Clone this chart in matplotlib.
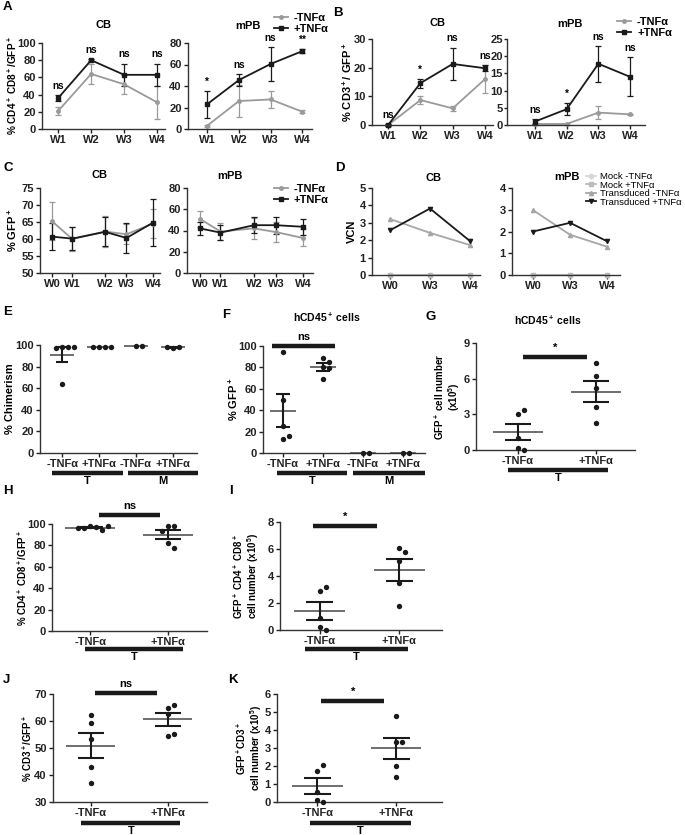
import numpy as np
import matplotlib
matplotlib.use("Agg")
import matplotlib.pyplot as plt
from matplotlib.transforms import offset_copy, blended_transform_factory
from matplotlib.lines import Line2D

plt.rcParams["font.family"] = ["Liberation Sans", "DejaVu Sans"]
plt.rcParams["font.weight"] = "bold"
plt.rcParams["axes.labelweight"] = "bold"
plt.rcParams["mathtext.fontset"] = "custom"
plt.rcParams["mathtext.rm"] = "Liberation Sans:bold"
plt.rcParams["mathtext.bf"] = "Liberation Sans:bold"
plt.rcParams["mathtext.it"] = "Liberation Sans:bold"
plt.rcParams["mathtext.default"] = "bf"

# ---------------- data ----------------
weeks_ab = ["W1", "W2", "W3", "W4"]
a_cb_minus = [21, 64, 52, 31]
a_cb_minus_err = [5, 12, 11, 19]
a_cb_plus = [36, 80, 63, 63]
a_cb_plus_err = [3, 1, 13, 13]
a_cb_sig = ["ns", "ns", "ns", "ns"]
a_pb_minus = [3, 26, 27.5, 16]
a_pb_minus_err = [1, 15, 7.5, 1.5]
a_pb_plus = [23, 45.5, 60.5, 72.5]
a_pb_plus_err = [12.5, 5.5, 15.5, 1.5]
a_pb_sig = ["*", "ns", "ns", "**"]

b_cb_minus = [0, 8.7, 5.8, 16]
b_cb_minus_err = [0.3, 1.5, 0.9, 5]
b_cb_plus = [0, 14.6, 21.3, 19.8]
b_cb_plus_err = [0.3, 1.6, 5.7, 1.1]
b_cb_sig = ["ns", "*", "ns", "ns"]
b_pb_minus = [0.3, 0.3, 3.6, 3.1]
b_pb_minus_err = [0.2, 0.2, 1.8, 0.2]
b_pb_plus = [1.0, 4.6, 17.8, 14.0]
b_pb_plus_err = [0.7, 1.8, 5.2, 5.7]
b_pb_sig = ["ns", "*", "ns", "ns"]

weeks_c = ["W0", "W1", "W2", "W3", "W4"]
weeks_c_pos = [0, 0.8, 2.1, 2.95, 4]
c_cb_minus = [65.2, 60.0, 62.2, 61.4, 64.5]
c_cb_minus_err = [5.6, 3.5, 4.5, 3.0, 4.2]
c_cb_plus = [60.7, 60.1, 62.1, 60.3, 64.8]
c_cb_plus_err = [4.0, 3.3, 4.3, 4.4, 7.0]
c_pb_minus = [51, 39, 42, 38.5, 33]
c_pb_minus_err = [7.5, 8, 10, 9.5, 8]
c_pb_plus = [42, 38, 45, 45, 43.5]
c_pb_plus_err = [6, 7, 7.5, 8, 7.5]

weeks_d = ["W0", "W3", "W4"]
d_cb_mock_minus = [0, 0, 0]
d_cb_mock_plus = [0, 0, 0]
d_cb_td_minus = [3.22, 2.42, 1.72]
d_cb_td_plus = [2.57, 3.82, 1.95]
d_pb_mock_minus = [0, 0, 0]
d_pb_mock_plus = [0, 0, 0]
d_pb_td_minus = [2.98, 1.85, 1.3]
d_pb_td_plus = [2.0, 2.4, 1.55]

tnf4 = ["-TNFα", "+TNFα", "-TNFα", "+TNFα"]
tnf2 = ["-TNFα", "+TNFα"]
e_vals = [[98, 98, 97, 98, 64], [98, 98, 98, 98], [99, 99], [97.5, 98, 98]]
f_vals = [[94, 50, 25, 13, 16], [89, 85, 80, 79, 69], [0, 0], [0, 0]]
g_vals = [[3.0, 3.35, 1.0, 0.2, 0.0], [7.3, 6.2, 5.2, 3.6, 2.3]]
h_vals = [[98, 97, 96, 94, 96, 98], [98, 98, 93, 82, 78]]
i_vals = [[2.9, 3.15, 0.9, 0.2, 0.0], [6.05, 5.75, 5.1, 3.5, 1.75]]
j_vals = [[62.3, 59.1, 53.3, 42.8, 37.1], [65.0, 66.0, 62.5, 54.5, 55.3]]
k_vals = [[1.75, 2.05, 0.55, 0.1, 0.0], [4.8, 3.35, 3.35, 2.0, 1.4]]

GRAY = "#9a9a9a"
BLACK = "#1a1a1a"
W, H = 685, 835
FS = 8

fig = plt.figure(figsize=(W / 100, H / 100), dpi=100)


def add_ax(l, t, r, b):
    ax = fig.add_axes([l / W, 1 - b / H, (r - l) / W, (b - t) / H])
    for s in ("top", "right"):
        ax.spines[s].set_visible(False)
    for s in ("left", "bottom"):
        ax.spines[s].set_linewidth(1.0)
        ax.spines[s].set_color("#333333")
    ax.tick_params(direction="out", length=3, width=1, labelsize=FS,
                   colors="#222222", pad=1.5)
    return ax


def ftext(x, y, s, **kw):
    kw.setdefault("ha", "center")
    kw.setdefault("va", "center")
    kw.setdefault("fontsize", FS)
    fig.text(x / W, 1 - y / H, s, **kw)


def ylab(ax, s, xpx, fs=FS):
    ax.set_ylabel(s, fontsize=fs, linespacing=1.0)
    tr = blended_transform_factory(fig.transFigure, ax.transAxes)
    ax.yaxis.set_label_coords(xpx / W, 0.5, transform=tr)
    ax.yaxis.label.set_verticalalignment("center")


def line_panel(ax, x, minus, minus_err, plus, plus_err, sig=None):
    ax.errorbar(x, minus, yerr=minus_err, color=GRAY, marker="o", ms=2.5,
                lw=1.3, elinewidth=0.9, capsize=2, capthick=0.9, clip_on=False)
    ax.errorbar(x, plus, yerr=plus_err, color=BLACK, marker="s", ms=2.5,
                lw=1.3, elinewidth=0.9, capsize=2, capthick=0.9, clip_on=False)
    if sig:
        for xi, s, m1, e1, m2, e2 in zip(x, sig, minus, minus_err, plus, plus_err):
            top = max(m1 + e1, m2 + e2)
            ax.annotate(s, (xi, top), xytext=(0, 3), textcoords="offset points",
                        ha="center", va="bottom", fontsize=7.2,
                        annotation_clip=False)


def swarm_offsets(ax, vals, d=6.0):
    o = ax.transData.transform((0, 0))
    sx = ax.transData.transform((1, 0))[0] - o[0]
    sy = ax.transData.transform((0, 1))[1] - o[1]
    placed, offs = [], []
    for v in vals:
        for k in (0, 1, -1, 2, -2, 3, -3, 4):
            px = k * d
            if all(np.hypot(px - qx, (v - qv) * sy) >= d * 0.95 for qx, qv in placed):
                break
        placed.append((px, v))
        offs.append(px / sx)
    return np.array(offs)


def dot_panel(ax, groups, labels):
    for i, vals in enumerate(groups):
        vals = np.asarray(vals, float)
        offs = swarm_offsets(ax, vals)
        ax.scatter(i + offs, vals, s=15, color=BLACK, zorder=4, clip_on=False,
                   linewidths=0)
        m = vals.mean()
        sem = vals.std(ddof=1) / np.sqrt(len(vals))
        ax.hlines(m, i - 0.32, i + 0.32, color="#555555", lw=1.2, zorder=3)
        if sem > 0:
            ax.vlines(i, m - sem, m + sem, color=BLACK, lw=1.5, zorder=3)
            ax.hlines([m - sem, m + sem], i - 0.17, i + 0.17, color=BLACK,
                      lw=1.5, zorder=3)
    ax.set_xticks(range(len(groups)))
    ax.set_xticklabels(labels)


def group_bar(ax, x0, x1, label, dy=20):
    tr = offset_copy(ax.get_xaxis_transform(), fig=fig, y=-dy, units="dots")
    ax.plot([x0, x1], [0, 0], transform=tr, color=BLACK, lw=3.2,
            clip_on=False, solid_capstyle="butt")
    tr2 = offset_copy(ax.get_xaxis_transform(), fig=fig, y=-dy - 3, units="dots")
    ax.text((x0 + x1) / 2, 0, label, transform=tr2, ha="center", va="top",
            fontsize=FS)


def sig_bar(ax, x0, x1, y, label):
    ax.plot([x0, x1], [y, y], color=BLACK, lw=3.2, clip_on=False,
            solid_capstyle="butt")
    ax.annotate(label, ((x0 + x1) / 2, y), xytext=(0, 3),
                textcoords="offset points", ha="center", va="bottom",
                fontsize=FS, annotation_clip=False)


legend_prop = {"weight": "bold", "size": FS}


def tnf_legend(ax, xpx, ypx):
    h = [Line2D([], [], color=GRAY, marker="o", ms=2.5, lw=1.3),
         Line2D([], [], color=BLACK, marker="s", ms=2.5, lw=1.3)]
    ax.legend(h, ["-TNFα", "+TNFα"], loc="upper left",
              bbox_to_anchor=(xpx / W, 1 - ypx / H),
              bbox_transform=fig.transFigure, frameon=False, prop=legend_prop,
              handlelength=1.3, handletextpad=0.5, labelspacing=0.1,
              borderpad=0, borderaxespad=0)


# ---------------- A ----------------
x4 = np.arange(len(weeks_ab))
ax = add_ax(42, 43, 165, 129)
line_panel(ax, x4, a_cb_minus, a_cb_minus_err, a_cb_plus, a_cb_plus_err, a_cb_sig)
ax.set_xlim(-0.49, 3.24)
ax.set_ylim(0, 100)
ax.set_yticks(range(0, 101, 20))
ax.set_xticks(x4)
ax.set_xticklabels(weeks_ab)
ylab(ax, r"% CD4$^+$ CD8$^+$/GFP$^+$", 12, fs=7.2)
ftext(103, 25, "CB")

ax = add_ax(188, 43, 312, 129)
line_panel(ax, x4, a_pb_minus, a_pb_minus_err, a_pb_plus, a_pb_plus_err, a_pb_sig)
ax.set_xlim(-0.6, 3.3)
ax.set_ylim(0, 80)
ax.set_yticks(range(0, 81, 20))
ax.set_xticks(x4)
ax.set_xticklabels(weeks_ab)
ftext(248, 26, "mPB")
tnf_legend(ax, 274, 13)

# ---------------- B ----------------
ax = add_ax(372, 39, 493, 125)
line_panel(ax, x4, b_cb_minus, b_cb_minus_err, b_cb_plus, b_cb_plus_err, b_cb_sig)
ax.set_xlim(-0.5, 3.25)
ax.set_ylim(0, 30)
ax.set_yticks([0, 10, 20, 30])
ax.set_xticks(x4)
ax.set_xticklabels(weeks_ab)
ylab(ax, r"% CD3$^+$/ GFP$^+$", 347)
ftext(437, 23, "CB")

ax = add_ax(507, 39, 645, 125)
line_panel(ax, x4, b_pb_minus, b_pb_minus_err, b_pb_plus, b_pb_plus_err, b_pb_sig)
ax.set_xlim(-0.88, 3.47)
ax.set_ylim(0, 25)
ax.set_yticks(range(0, 26, 5))
ax.set_xticks(x4)
ax.set_xticklabels(weeks_ab)
ax.tick_params(axis="y", pad=0.5, length=2.5)
ftext(570, 24, "mPB")
tnf_legend(ax, 617, 17)

# ---------------- C ----------------
ax = add_ax(40, 188, 160, 273)
line_panel(ax, weeks_c_pos, c_cb_minus, c_cb_minus_err, c_cb_plus, c_cb_plus_err)
ax.set_xlim(-0.48, 4.28)
ax.set_ylim(50, 75)
ax.set_yticks(range(50, 76, 5))
ax.set_xticks(weeks_c_pos)
ax.set_xticklabels(weeks_c)
ylab(ax, r"% GFP$^+$", 12)
ftext(100, 175, "CB")

ax = add_ax(187, 188, 313, 273)
line_panel(ax, weeks_c_pos, c_pb_minus, c_pb_minus_err, c_pb_plus, c_pb_plus_err)
ax.set_xlim(-0.5, 4.39)
ax.set_ylim(0, 80)
ax.set_yticks(range(0, 81, 20))
ax.set_xticks(weeks_c_pos)
ax.set_xticklabels(weeks_c)
ftext(230, 176, "mPB")
tnf_legend(ax, 274, 184)

# ---------------- D ----------------
d_styles = [("#d6d6d6", "o"), ("#bcbcbc", "s"), ("#a6a6a6", "^"), (BLACK, "v")]
d_names = ["Mock -TNFα", "Mock +TNFα", "Transduced -TNFα", "Transduced +TNFα"]
x3 = np.arange(len(weeks_d))
for rect, series, ylim, xl, title, tpos in [
    ((372, 188, 480, 275), [d_cb_mock_minus, d_cb_mock_plus, d_cb_td_minus, d_cb_td_plus],
     5, (-0.45, 2.25), "CB", (433, 178)),
    ((512, 188, 620, 275), [d_pb_mock_minus, d_pb_mock_plus, d_pb_td_minus, d_pb_td_plus],
     4, (-0.57, 2.35), "mPB", (567, 177)),
]:
    ax = add_ax(*rect)
    handles = []
    for vals, (c, mk) in zip(series, d_styles):
        ln, = ax.plot(x3, vals, color=c, marker=mk, ms=3, lw=1.3, clip_on=False)
        handles.append(ln)
    ax.set_xlim(*xl)
    ax.set_ylim(0, ylim)
    ax.set_yticks(range(0, ylim + 1))
    ax.set_xticks(x3)
    ax.set_xticklabels(weeks_d)
    ftext(tpos[0], tpos[1], title)
    if title == "CB":
        ylab(ax, "VCN", 352)
    else:
        ax.legend(handles, d_names, loc="upper left",
                  bbox_to_anchor=(586 / W, 1 - 172 / H),
                  bbox_transform=fig.transFigure, frameon=False,
                  prop={"weight": "normal", "size": 6.8}, handlelength=1.1,
                  handletextpad=0.4, labelspacing=-0.05, borderpad=0,
                  borderaxespad=0)

# ---------------- E ----------------
ax = add_ax(40, 345, 197, 453)
ax.set_xlim(-0.6, 3.65)
ax.set_ylim(0, 100)
ax.set_yticks(range(0, 101, 20))
dot_panel(ax, e_vals, tnf4)
group_bar(ax, -0.27, 1.65, "T")
group_bar(ax, 1.78, 3.68, "M")
ylab(ax, "% Chimerism", 10)

# ---------------- F ----------------
ax = add_ax(263, 346, 425, 453)
ax.set_xlim(-0.5, 3.55)
ax.set_ylim(0, 100)
ax.set_yticks(range(0, 101, 20))
dot_panel(ax, f_vals, tnf4)
group_bar(ax, -0.15, 1.6, "T")
group_bar(ax, 1.75, 3.55, "M")
sig_bar(ax, -0.28, 1.3, 100, "ns")
ylab(ax, r"% GFP$^+$", 233)
ftext(327, 317, r"hCD45$^+$ cells", fontsize=7.5)

# ---------------- G ----------------
ax = add_ax(476, 343, 635, 450)
ax.set_xlim(-0.54, 1.5)
ax.set_ylim(0, 9)
ax.set_yticks([0, 3, 6, 9])
dot_panel(ax, g_vals, tnf2)
group_bar(ax, -0.13, 1.15, "T")
sig_bar(ax, 0.06, 0.88, 7.8, "*")
ylab(ax, "GFP$^+$ cell number\n(x10$^5$)", 447, fs=7)
ftext(548, 320, r"hCD45$^+$ cells", fontsize=7.5)

# ---------------- H ----------------
ax = add_ax(52, 524, 207, 631)
ax.set_xlim(-0.49, 1.5)
ax.set_ylim(0, 100)
ax.set_yticks(range(0, 101, 20))
dot_panel(ax, h_vals, tnf2)
group_bar(ax, -0.06, 1.19, "T", dy=18)
sig_bar(ax, 0.115, 0.9, 108, "ns")
ylab(ax, r"% CD4$^+$ CD8$^+$/GFP$^+$", 22, fs=7)

# ---------------- I ----------------
ax = add_ax(280, 522, 442, 630)
ax.set_xlim(-0.5, 1.54)
ax.set_ylim(0, 8)
ax.set_yticks(range(0, 9, 2))
dot_panel(ax, i_vals, tnf2)
group_bar(ax, -0.18, 1.11, "T", dy=19)
sig_bar(ax, -0.09, 0.72, 7.7, "*")
ylab(ax, "GFP$^+$ CD4$^+$ CD8$^+$\ncell number (x10$^5$)", 246, fs=7)

# ---------------- J ----------------
ax = add_ax(53, 694, 207, 802)
ax.set_xlim(-0.49, 1.51)
ax.set_ylim(30, 70)
ax.set_yticks(range(30, 71, 10))
dot_panel(ax, j_vals, tnf2)
group_bar(ax, -0.12, 1.16, "T", dy=21)
sig_bar(ax, 0.05, 0.86, 70.4, "ns")
ylab(ax, r"% CD3$^+$/GFP$^+$", 27, fs=7)

# ---------------- K ----------------
ax = add_ax(277, 694, 442, 802)
ax.set_xlim(-0.51, 1.58)
ax.set_ylim(0, 6)
ax.set_yticks(range(0, 7))
dot_panel(ax, k_vals, tnf2)
group_bar(ax, -0.09, 1.19, "T", dy=21)
sig_bar(ax, 0.05, 0.85, 5.6, "*")
ylab(ax, "GFP$^+$CD3$^+$\ncell number (x10$^5$)", 249, fs=7)

# ---------------- panel letters ----------------
for letter, x, y in [("A", 3, 7), ("B", 333, 13), ("C", 3, 168), ("D", 335, 168),
                     ("E", 3, 312), ("F", 222, 315), ("G", 425, 317),
                     ("H", 3, 491), ("I", 229, 491), ("J", 3, 680), ("K", 228, 680)]:
    ftext(x, y, letter, ha="left", fontsize=9.5)

fig.savefig("out.png", dpi=100)
